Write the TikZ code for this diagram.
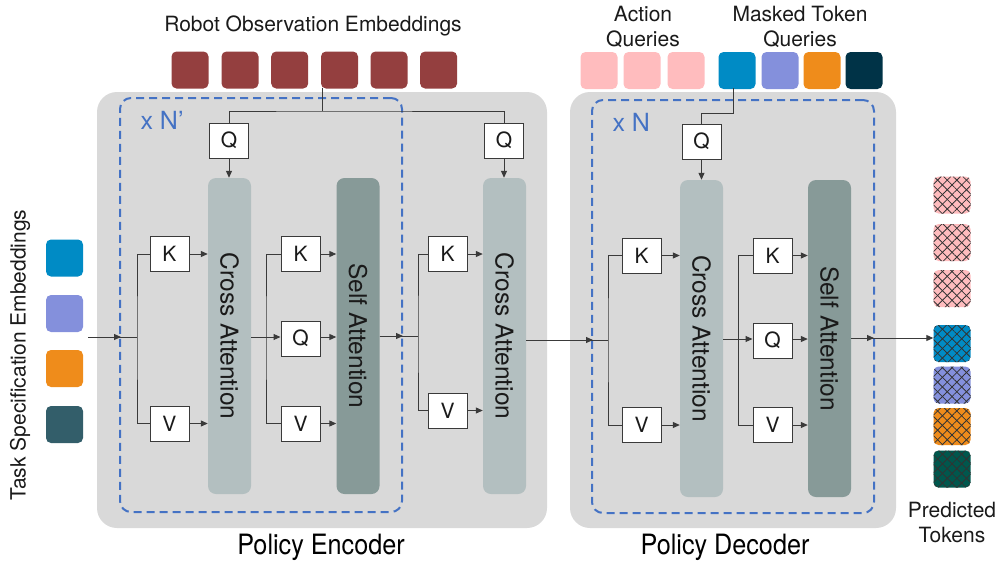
\documentclass[tikz,border=0pt]{standalone}
\usepackage{fontspec}
\setmainfont{TeX Gyre Heros}
\usetikzlibrary{arrows.meta,patterns.meta}
\definecolor{bg}{HTML}{D9D9D9}
\definecolor{dashc}{HTML}{4472C4}
\definecolor{robot}{HTML}{943F3F}
\definecolor{caC}{HTML}{B3BFC0}
\definecolor{saC}{HTML}{879A98}
\definecolor{pinkq}{HTML}{FFBCBE}
\definecolor{blueq}{HTML}{008BC5}
\definecolor{lavq}{HTML}{8490DC}
\definecolor{orq}{HTML}{EF8C1B}
\definecolor{navyq}{HTML}{003347}
\definecolor{tealq}{HTML}{335E6A}
\definecolor{greenq}{HTML}{00574D}
\definecolor{txt}{HTML}{1A1A1A}
\definecolor{ln}{HTML}{3A3A3A}
\tikzset{
  tok/.style={rounded corners=5pt, minimum width=37pt, minimum height=37pt, inner sep=0pt, fill=#1},
  ptok/.style={tok=#1,
    postaction={pattern={Lines[angle=45,distance=6.8pt,line width=0.8pt]}, pattern color=black!80},
    postaction={pattern={Lines[angle=-45,distance=6.8pt,line width=0.8pt]}, pattern color=black!80}},
  kqv/.style={draw=ln, line width=1pt, fill=white, minimum width=39pt, minimum height=35pt, inner sep=0pt, font=\fontsize{21}{21}\selectfont, text=txt},
  bar/.style={rounded corners=8pt, minimum width=43pt, minimum height=316pt, inner sep=0pt, fill=#1},
  barlabel/.style={rotate=-90, font=\fontsize{24.5}{24.5}\selectfont, text=txt},
  conn/.style={draw=ln, line width=1pt},
  arr/.style={conn, -{Triangle[length=7pt,width=6pt]}},
  lbl/.style={font=\fontsize{21}{25}\selectfont, text=txt, align=center},
  big/.style={font=\fontsize{28}{28}\selectfont, text=black},
  rep/.style={font=\fontsize{25}{25}\selectfont, text=dashc, anchor=west},
  dbox/.style={draw=dashc, line width=2pt, dash pattern=on 8pt off 5pt, rounded corners=11pt, inner sep=0pt},
  panel/.style={fill=bg, rounded corners=20pt, inner sep=0pt},
}
\begin{document}
\begin{tikzpicture}[x=1pt,y=-1pt]
\useasboundingbox (0,0) rectangle (998,560);
% panels
\node[panel, minimum width=450pt, minimum height=436pt] (enc) at (322,310) {};
\node[panel, minimum width=326pt, minimum height=436pt] (dec) at (733,310) {};
\node[dbox, minimum width=282pt, minimum height=414pt] (encrep) at (261,305) {};
\node[dbox, minimum width=282pt, minimum height=413pt] (decrep) at (733,306.5) {};
\node[rep] (nprime) at (137,120) {x N'};
\node[rep] (nn) at (609,122) {x N};
% labels
\node[lbl] (robotlbl) at (313,26) {Robot Observation Embeddings};
\node[lbl] (actlbl) at (643,27) {Action\\Queries};
\node[lbl] (masklbl) at (800,27) {Masked Token\\Queries};
\node[lbl] (predlbl) at (952,522) {Predicted\\Tokens};
\node[lbl, rotate=90] (tasklbl) at (20,355) {Task Specification Embeddings};
\node[big] (enclbl) at (321,547) {\scalebox{0.9}[1]{Policy Encoder}};
\node[big] (declbl) at (725,547) {\scalebox{0.9}[1]{Policy Decoder}};
% robot observation tokens
\node[tok=robot] (r1) at (190,70) {};
\node[tok=robot] (r2) at (240,70) {};
\node[tok=robot] (r3) at (289.7,70) {};
\node[tok=robot] (r4) at (339.5,70) {};
\node[tok=robot] (r5) at (389,70) {};
\node[tok=robot] (r6) at (438.6,70) {};
% action / masked queries
\node[tok=pinkq] (a1) at (599,70.5) {};
\node[tok=pinkq] (a2) at (642,70.5) {};
\node[tok=pinkq] (a3) at (686,70.5) {};
\node[tok=blueq] (m1) at (737,70.5) {};
\node[tok=lavq] (m2) at (780,70.5) {};
\node[tok=orq] (m3) at (822,70.5) {};
\node[tok=navyq] (m4) at (864,70.5) {};
% task tokens
\node[tok=blueq] (t1) at (64.5,258) {};
\node[tok=lavq] (t2) at (64.5,313.5) {};
\node[tok=orq] (t3) at (64.5,368.5) {};
\node[tok=tealq] (t4) at (64.5,424.5) {};
% predicted tokens
\node[ptok=pinkq] (p1) at (952,195) {};
\node[ptok=pinkq] (p2) at (952,242.5) {};
\node[ptok=pinkq] (p3) at (952,288.5) {};
\node[ptok=blueq] (p4) at (952,343.5) {};
\node[ptok=lavq] (p5) at (952,385) {};
\node[ptok=orq] (p6) at (952,426.5) {};
\node[ptok=greenq] (p7) at (952,469) {};
% bars
\node[bar=caC] (ca1) at (229.5,336) {};
\node[barlabel] (ca1l) at (ca1.center) {Cross Attention};
\node[bar=saC] (sa1) at (358,336) {};
\node[barlabel] (sa1l) at (sa1.center) {Self Attention};
\node[bar=caC] (ca2) at (504.5,336) {};
\node[barlabel] (ca2l) at (ca2.center) {Cross Attention};
\node[bar=caC, minimum height=317pt] (ca3) at (701.5,338.5) {};
\node[barlabel] (ca3l) at (ca3.center) {Cross Attention};
\node[bar=saC, minimum height=317pt] (sa2) at (829.5,338.5) {};
\node[barlabel] (sa2l) at (sa2.center) {Self Attention};
% K Q V boxes
\node[kqv] (Q1) at (229,140.5) {Q};
\node[kqv] (Q3) at (504,140.5) {Q};
\node[kqv] (Q4) at (701.5,141.5) {Q};
\node[kqv] (K1) at (169.5,254) {K};
\node[kqv] (V1) at (169.5,423.5) {V};
\node[kqv] (K2) at (300.5,254) {K};
\node[kqv] (Q2) at (300.5,338.5) {Q};
\node[kqv] (V2) at (300.5,423.5) {V};
\node[kqv] (K3) at (447.5,254) {K};
\node[kqv] (V3) at (447.5,410.5) {V};
\node[kqv] (K4) at (641.5,255.5) {K};
\node[kqv] (V4) at (641.5,425) {V};
\node[kqv] (K5) at (772.5,255.5) {K};
\node[kqv] (Q5) at (772.5,340.5) {Q};
\node[kqv] (V5) at (772.5,425) {V};
% coordinates
\coordinate (in0) at (88,337);
\coordinate (tip1) at (121,337);
\coordinate (br1) at (137,337);
\coordinate (br2) at (266,337);
\coordinate (o2) at (379.5,336);
\coordinate (tip2) at (403,336);
\coordinate (br3) at (418,336);
\coordinate (o3) at (526,340);
\coordinate (tip3) at (593,340);
\coordinate (br4) at (608,340);
\coordinate (br5) at (738,339);
\coordinate (o5) at (851,338);
\coordinate (tip5) at (874,338);
\coordinate (hub) at (322,111);
\coordinate (rob) at (322,88);
\coordinate (mq) at (733,88);
% encoder connectors
\draw[conn] (in0) -- (br1);
\draw[arr] (in0) -- (tip1);
\draw[conn] (K1.west) -| (br1) |- (V1.west);
\draw[arr] (K1.east) -- (K1.east -| ca1.west);
\draw[arr] (V1.east) -- (V1.east -| ca1.west);
\draw[conn] (rob) -- (hub);
\draw[conn] (Q1.north) |- (hub) -| (Q3.north);
\draw[arr] (Q1.south) -- (Q1.south |- ca1.north);
\draw[conn] (br2 -| ca1.east) -- (br2);
\draw[conn] (K2.west) -| (br2) |- (V2.west);
\draw[arr] (br2) -- (Q2.west |- br2);
\draw[arr] (K2.east) -- (K2.east -| sa1.west);
\draw[arr] (Q2.east |- br2) -- (br2 -| sa1.west);
\draw[arr] (V2.east) -- (V2.east -| sa1.west);
\draw[conn] (o2) -- (br3);
\draw[arr] (o2) -- (tip2);
\draw[conn] (K3.west) -| (br3) |- (V3.west);
\draw[arr] (K3.east) -- (K3.east -| ca2.west);
\draw[arr] (V3.east) -- (V3.east -| ca2.west);
\draw[arr] (Q3.south) -- (Q3.south |- ca2.north);
% encoder to decoder
\draw[conn] (o3) -- (br4);
\draw[arr] (o3) -- (tip3);
% decoder connectors
\draw[conn] (K4.west) -| (br4) |- (V4.west);
\draw[arr] (K4.east) -- (K4.east -| ca3.west);
\draw[arr] (V4.east) -- (V4.east -| ca3.west);
\draw[conn] (mq) -- ++(0,25) -| (Q4.north);
\draw[arr] (Q4.south) -- (Q4.south |- ca3.north);
\draw[conn] (br5 -| ca3.east) -- (br5);
\draw[conn] (K5.west) -| (br5) |- (V5.west);
\draw[arr] (br5) -- (Q5.west |- br5);
\draw[arr] (K5.east) -- (K5.east -| sa2.west);
\draw[arr] (Q5.east |- br5) -- (br5 -| sa2.west);
\draw[arr] (V5.east) -- (V5.east -| sa2.west);
\draw[arr] (o5) -- (o5 -| p4.west);
\draw[arr] (o5) -- (tip5);
\end{tikzpicture}
\end{document}
